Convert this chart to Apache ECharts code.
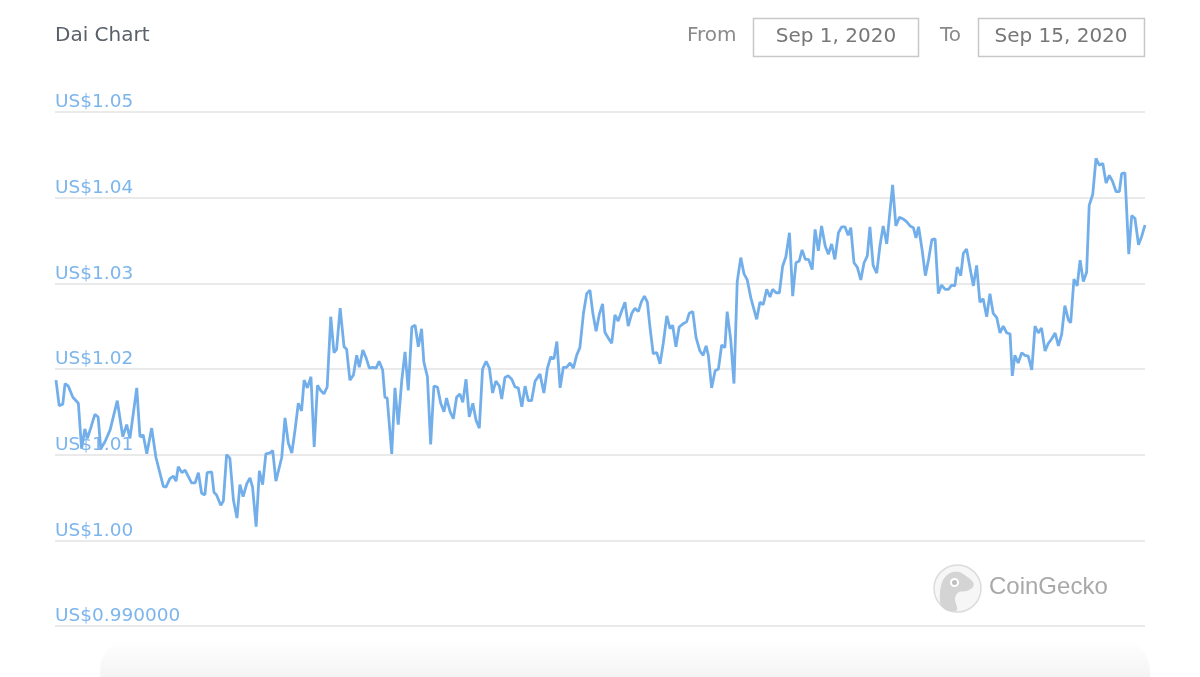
<!DOCTYPE html>
<html>
<head>
<meta charset="utf-8">
<title>Dai Chart</title>
<script src="https://cdn.jsdelivr.net/npm/echarts@6/dist/echarts.min.js"></script>
<style>
  html, body { margin: 0; padding: 0; background: #fff; }
  #chart { width: 1200px; height: 677px; }
</style>
</head>
<body>
<div id="chart"></div>
<script>
// hours since Sep 1, 2020 00:00
const hours = [
  0.3, 1.3, 2.4, 3.1, 4.1, 5.5, 7.2, 8.2, 9.2, 10.0,
  11.0, 12.3, 13.3, 14.1, 15.4, 17.0, 19.2, 20.9, 22.1, 23.1,
  25.2, 26.2, 27.2, 28.3, 29.8, 31.1, 33.4, 34.2, 35.4, 36.5,
  37.3, 38.0, 39.1, 40.1, 42.1, 43.2, 44.2, 45.2, 46.2, 46.9,
  48.3, 49.0, 49.8, 51.1, 51.9, 52.9, 53.9, 55.0, 56.1, 57.0,
  58.0, 59.1, 60.1, 60.9, 62.0, 63.0, 64.0, 65.0, 66.3, 67.1,
  68.1, 69.9, 70.9, 71.9, 73.0, 74.0, 75.0, 76.0, 76.8, 77.8,
  78.9, 79.9, 80.9, 81.9, 82.9, 83.9, 85.0, 86.0, 86.8, 87.9,
  89.1, 89.9, 90.9, 92.0, 93.0, 93.8, 94.9, 95.9, 96.9, 97.9,
  99.0, 99.9, 101.0, 101.7, 102.4, 103.8, 104.8, 105.8, 106.9, 107.9,
  108.9, 110.0, 111.0, 112.0, 113.0, 113.7, 114.8, 115.8, 116.8, 117.9,
  118.9, 119.9, 120.7, 121.8, 122.8, 123.8, 124.8, 125.7, 126.7, 127.7,
  128.8, 129.8, 130.8, 131.8, 132.9, 133.9, 134.9, 135.9, 137.0, 137.7,
  138.7, 139.7, 140.8, 141.8, 142.8, 143.9, 144.9, 145.9, 146.9, 148.0,
  149.5, 150.7, 151.8, 152.8, 153.8, 154.7, 155.7, 156.7, 157.7, 158.8,
  159.8, 160.8, 161.8, 162.9, 163.9, 164.9, 165.8, 166.8, 167.8, 168.8,
  169.5, 170.6, 171.6, 172.6, 173.6, 174.7, 175.7, 176.7, 177.8, 178.8,
  179.8, 180.8, 181.7, 182.6, 183.4, 184.4, 185.5, 186.5, 187.5, 188.6,
  189.6, 190.4, 191.4, 192.4, 193.7, 194.7, 195.5, 196.6, 197.6, 198.8,
  199.8, 200.7, 201.4, 202.4, 203.5, 204.5, 205.5, 206.5, 207.2, 208.3,
  209.3, 210.3, 211.4, 212.4, 213.4, 214.5, 215.5, 216.3, 217.3, 218.3,
  219.4, 220.4, 221.2, 222.3, 223.3, 224.3, 225.3, 226.4, 227.4, 228.4,
  229.4, 230.3, 231.3, 232.3, 233.4, 234.3, 235.3, 236.3, 237.4, 238.4,
  239.4, 240.4, 241.5, 242.5, 243.5, 244.5, 245.3, 246.3, 247.3, 248.4,
  249.4, 250.4, 251.2, 252.2, 253.3, 254.3, 255.3, 256.4, 257.2, 258.2,
  259.2, 260.3, 261.5, 262.5, 263.6, 264.6, 265.4, 266.2, 267.3, 268.3,
  269.3, 270.3, 271.3, 272.3, 273.3, 274.4, 275.4, 276.4, 277.4, 278.1,
  279.2, 280.0, 281.0, 282.1, 283.1, 284.1, 285.1, 286.1, 287.2, 288.2,
  289.2, 290.3, 291.3, 292.3, 293.4, 294.4, 295.1, 295.9, 296.9, 298.0,
  299.0, 300.0, 301.1, 302.1, 303.1, 304.1, 305.2, 306.2, 307.2, 308.3,
  309.3, 310.3, 311.3, 312.4, 313.1, 314.1, 315.1, 316.0, 317.0, 318.0,
  318.8, 319.9, 320.9, 321.9, 323.0, 324.0, 325.0, 326.0, 327.1, 328.1,
  328.8, 329.8, 331.0, 331.9, 332.9, 334.0, 335.0, 336.0
]

// price in USD
const prices = [
  1.0187, 1.0157, 1.0159, 1.0183, 1.0180, 1.0167, 1.0160, 1.0107, 1.0130, 1.0119,
  1.0131, 1.0147, 1.0144, 1.0107, 1.0115, 1.0129, 1.0163, 1.0121, 1.0135, 1.0119,
  1.0178, 1.0121, 1.0123, 1.0101, 1.0131, 1.0097, 1.0063, 1.0062, 1.0072, 1.0075,
  1.0069, 1.0086, 1.0079, 1.0082, 1.0067, 1.0067, 1.0079, 1.0055, 1.0053, 1.0079,
  1.0080, 1.0056, 1.0053, 1.0041, 1.0046, 1.0100, 1.0096, 1.0047, 1.0026, 1.0065,
  1.0051, 1.0066, 1.0073, 1.0062, 1.0016, 1.0081, 1.0065, 1.0101, 1.0102, 1.0105,
  1.0069, 1.0097, 1.0143, 1.0114, 1.0102, 1.0129, 1.0160, 1.0151, 1.0187, 1.0178,
  1.0191, 1.0109, 1.0181, 1.0175, 1.0171, 1.0179, 1.0261, 1.0219, 1.0223, 1.0271,
  1.0226, 1.0223, 1.0187, 1.0193, 1.0216, 1.0202, 1.0222, 1.0213, 1.0201, 1.0202,
  1.0201, 1.0209, 1.0199, 1.0167, 1.0166, 1.0101, 1.0178, 1.0135, 1.0187, 1.0220,
  1.0175, 1.0249, 1.0251, 1.0226, 1.0247, 1.0208, 1.0191, 1.0112, 1.0180, 1.0179,
  1.0160, 1.0150, 1.0166, 1.0150, 1.0142, 1.0167, 1.0171, 1.0161, 1.0188, 1.0144,
  1.0160, 1.0140, 1.0131, 1.0200, 1.0209, 1.0201, 1.0172, 1.0186, 1.0180, 1.0165,
  1.0190, 1.0192, 1.0188, 1.0179, 1.0178, 1.0156, 1.0180, 1.0163, 1.0163, 1.0186,
  1.0194, 1.0172, 1.0201, 1.0214, 1.0212, 1.0232, 1.0178, 1.0202, 1.0202, 1.0207,
  1.0201, 1.0216, 1.0225, 1.0265, 1.0288, 1.0292, 1.0265, 1.0244, 1.0264, 1.0276,
  1.0243, 1.0236, 1.0230, 1.0263, 1.0256, 1.0268, 1.0278, 1.0250, 1.0265, 1.0271,
  1.0267, 1.0279, 1.0285, 1.0278, 1.0249, 1.0218, 1.0219, 1.0206, 1.0230, 1.0262,
  1.0247, 1.0251, 1.0226, 1.0249, 1.0253, 1.0255, 1.0265, 1.0267, 1.0237, 1.0221,
  1.0216, 1.0227, 1.0216, 1.0178, 1.0198, 1.0200, 1.0228, 1.0225, 1.0267, 1.0234,
  1.0183, 1.0302, 1.0330, 1.0311, 1.0304, 1.0283, 1.0269, 1.0258, 1.0278, 1.0275,
  1.0293, 1.0284, 1.0293, 1.0289, 1.0289, 1.0320, 1.0331, 1.0359, 1.0285, 1.0324,
  1.0326, 1.0339, 1.0328, 1.0328, 1.0316, 1.0363, 1.0338, 1.0367, 1.0344, 1.0334,
  1.0346, 1.0328, 1.0359, 1.0366, 1.0366, 1.0356, 1.0365, 1.0324, 1.0319, 1.0304,
  1.0324, 1.0332, 1.0366, 1.0321, 1.0312, 1.0344, 1.0367, 1.0346, 1.0377, 1.0415,
  1.0367, 1.0377, 1.0375, 1.0372, 1.0367, 1.0365, 1.0353, 1.0366, 1.0339, 1.0309,
  1.0328, 1.0351, 1.0352, 1.0288, 1.0298, 1.0293, 1.0293, 1.0298, 1.0297, 1.0319,
  1.0309, 1.0335, 1.0340, 1.0317, 1.0297, 1.0321, 1.0278, 1.0282, 1.0261, 1.0288,
  1.0265, 1.0260, 1.0242, 1.0250, 1.0242, 1.0241, 1.0192, 1.0216, 1.0207, 1.0219,
  1.0216, 1.0215, 1.0199, 1.0250, 1.0242, 1.0248, 1.0221, 1.0230, 1.0235, 1.0242,
  1.0227, 1.0240, 1.0274, 1.0257, 1.0254, 1.0305, 1.0297, 1.0327, 1.0302, 1.0313,
  1.0391, 1.0404, 1.0446, 1.0438, 1.0440, 1.0417, 1.0426, 1.0419, 1.0407, 1.0407,
  1.0428, 1.0429, 1.0334, 1.0379, 1.0376, 1.0345, 1.0355, 1.0368
]

const yTicks = [0.99, 1.0, 1.01, 1.02, 1.03, 1.04, 1.05]
const fromDate = "Sep 1, 2020"
const toDate = "Sep 15, 2020"

const lineColor = "#72afea"
const labelFont = "DejaVu Sans"

const chart = echarts.init(document.getElementById("chart"))

function fmtPrice(v) {
  if (Math.abs(v - yTicks[0]) < 1e-6) {
    return "US$" + v.toFixed(6)
  }
  return "US$" + v.toFixed(2)
}

const option = {
  animation: false,
  backgroundColor: "#fff",
  grid: { left: 55, right: 55, top: 112, bottom: 51, containLabel: false },
  xAxis: {
    type: "value",
    min: 0,
    max: 336,
    show: false
  },
  yAxis: {
    type: "value",
    min: yTicks[0],
    max: yTicks[yTicks.length - 1],
    interval: 0.01,
    axisLine: { show: false },
    axisTick: { show: false },
    splitLine: { lineStyle: { color: "#e3e3e3", width: 1.5 } },
    axisLabel: {
      inside: true,
      margin: 0,
      verticalAlign: "bottom",
      padding: [0, 0, 0, 0],
      color: "#7cb5ec",
      fontFamily: labelFont,
      fontSize: 18.5,
      formatter: fmtPrice
    }
  },
  graphic: [
    // title
    {
      type: "text", x: 55, y: 36,
      style: { text: "Dai Chart", fill: "#596069", font: "20px 'DejaVu Sans'", verticalAlign: "middle" }
    },
    // date range
    {
      type: "text", x: 687, y: 36,
      style: { text: "From", fill: "#8a8a8a", font: "20px 'DejaVu Sans'", verticalAlign: "middle" }
    },
    {
      type: "rect", shape: { x: 753.5, y: 18.5, width: 165, height: 38 },
      style: { fill: "#fff", stroke: "#c8c8c8", lineWidth: 1.5 }
    },
    {
      type: "text", x: 836, y: 37,
      style: { text: fromDate, fill: "#777", font: "20px 'DejaVu Sans'", align: "center", verticalAlign: "middle" }
    },
    {
      type: "text", x: 940, y: 36,
      style: { text: "To", fill: "#8a8a8a", font: "20px 'DejaVu Sans'", verticalAlign: "middle" }
    },
    {
      type: "rect", shape: { x: 978.5, y: 18.5, width: 166, height: 38 },
      style: { fill: "#fff", stroke: "#c8c8c8", lineWidth: 1.5 }
    },
    {
      type: "text", x: 1061, y: 37,
      style: { text: toDate, fill: "#777", font: "20px 'DejaVu Sans'", align: "center", verticalAlign: "middle" }
    },
    // watermark
    {
      type: "circle", shape: { cx: 957.5, cy: 588.5, r: 23.5 },
      style: { fill: "#f6f6f6", stroke: "#dcdcdc", lineWidth: 1.5 }, z: 1
    },
    {
      type: "polygon", z: 1,
      shape: {
        smooth: 0.3,
        points: [[941, 605], [940, 592], [943, 580], [950, 573], [959, 572], [966, 576], [973, 582], [973, 587], [967, 591], [959, 592], [955, 598], [957, 610], [948, 611]]
      },
      style: { fill: "#d4d4d4" }
    },
    {
      type: "circle", shape: { cx: 954.5, cy: 582.5, r: 3.5 }, z: 1,
      style: { fill: "#bdbdbd", stroke: "#fff", lineWidth: 2 }
    },
    {
      type: "text", x: 989, y: 587, z: 1,
      style: { text: "CoinGecko", fill: "#a9a9a9", font: "24px 'Liberation Sans'", verticalAlign: "middle" }
    },
    // faint shadow below the plot
    {
      type: "rect", shape: { x: 100, y: 640, width: 1050, height: 37, r: [30, 30, 0, 0] }, z: 0,
      style: {
        fill: {
          type: "linear", x: 0, y: 0, x2: 0, y2: 1,
          colorStops: [
            { offset: 0, color: "rgba(244,244,244,0)" },
            { offset: 1, color: "rgba(242,242,242,0.85)" }
          ]
        }
      }
    }
  ],
  series: [
    {
      name: "Dai",
      type: "line",
      showSymbol: false,
      smooth: false,
      z: 3,
      lineStyle: { color: lineColor, width: 2.8 },
      data: hours.map((h, i) => [h, prices[i]])
    }
  ]
}

chart.setOption(option)
</script>
</body>
</html>
